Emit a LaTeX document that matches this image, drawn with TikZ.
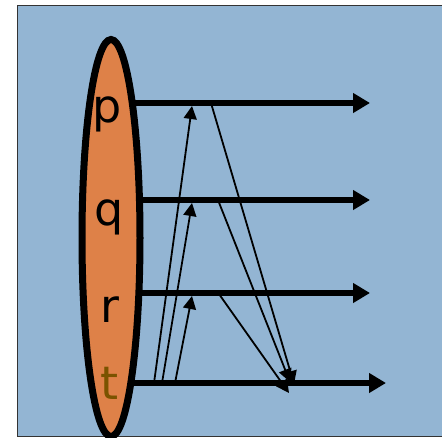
\documentclass[tikz,border=0pt]{standalone}
\usepackage{fontspec}
\setsansfont{DejaVu Sans}
\usetikzlibrary{arrows.meta,shapes.geometric}
\definecolor{bgblue}{RGB}{147,181,211}
\definecolor{setorange}{RGB}{222,129,72}
\definecolor{tbrown}{RGB}{122,83,0}

\begin{document}
\begin{tikzpicture}[x=1pt,y=-1pt,
      every node/.style={font=\sffamily\fontsize{46}{46}\selectfont},
      letter/.style={anchor=base, inner sep=0pt},
      flow/.style={-{Triangle[length=17pt,width=19pt]}, line width=5.5pt},
      hop/.style={-{Triangle[length=13pt,width=13pt]}, line width=1.8pt}
    ]
    \useasboundingbox (0,0) rectangle (442,437);
    \draw[fill=bgblue, draw=black!80, line width=1pt] (17,5) rectangle (470,436);

    % points on the four lines
    \coordinate (p0) at (111,103);  \coordinate (p1) at (370,103);
    \coordinate (q0) at (111,200);  \coordinate (q1) at (370,200);
    \coordinate (r0) at (111,293);  \coordinate (r1) at (370,293);
    \coordinate (t0) at (111,383);  \coordinate (t1) at (386,383);

    \draw[flow] (p0) -- (p1);
    \draw[flow] (q0) -- (q1);
    \draw[flow] (r0) -- (r1);
    \draw[flow] (t0) -- (t1);

    \node[ellipse, draw, line width=7pt, fill=setorange,
          minimum width=58pt, minimum height=397pt] (set) at (111,238) {};

    \node[letter] (p) at (107,122) {p};
    \node[letter] (q) at (109,225) {q};
    \node[letter] (r) at (110,322) {r};
    \node[letter, text=tbrown] (t) at (110,399) {t};

    % up from t
    \coordinate (tp) at (154,383);  \coordinate (pt) at (192,106);
    \coordinate (tq) at (162,383);  \coordinate (qt) at (192,203);
    \coordinate (tr) at (175,383);  \coordinate (rt) at (192,296);
    \draw[hop] (tp) -- (pt);
    \draw[hop] (tq) -- (qt);
    \draw[hop] (tr) -- (rt);

    % down to t
    \coordinate (pd) at (211,103);  \coordinate (dp) at (294,384);
    \coordinate (qd) at (218,200);  \coordinate (dq) at (290,382);
    \coordinate (rd) at (219,294);  \coordinate (dr) at (289,393);
    \draw[hop] (pd) -- (dp);
    \draw[hop] (qd) -- (dq);
    \draw[hop] (rd) -- (dr);
  \end{tikzpicture}
\end{document}
